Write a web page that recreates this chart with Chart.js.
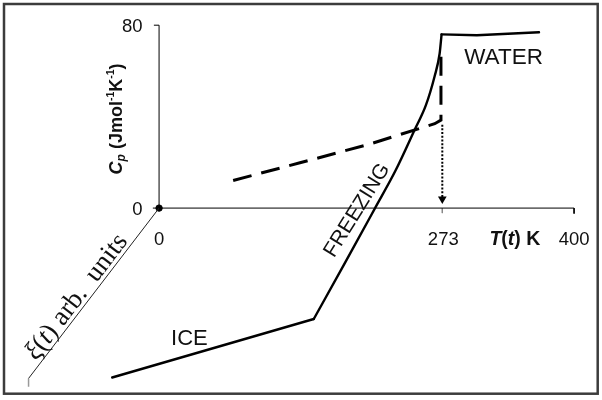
<!DOCTYPE html>
<html>
<head>
<meta charset="utf-8">
<script src="https://cdn.jsdelivr.net/npm/chart.js@4.4.1/dist/chart.umd.min.js"></script>
<style>
html,body{margin:0;padding:0;background:#fff;}
#wrap{width:602px;height:400px;}
</style>
</head>
<body>
<div id="wrap"><canvas id="c" width="602" height="400"></canvas></div>
<script>
// ---- data (T in K, Cp in J mol^-1 K^-1, projected onto the T–Cp plane) ----
const iceT       = [-45.2, 149.1];
const iceCp      = [-74.1, -48.5];
const freezingT  = [149.1, 178.9, 208.3, 227.8, 246.7, 257.1, 265.6, 270.4, 272.3];
const freezingCp = [-48.5, -24.2,   0.1,  16.3,  34.6,  44.9,  57.7,  67.5,  76.0];
const waterT     = [272.3, 306.3, 366.2];
const waterCp    = [76.0,  75.6,  76.9];
const dashT   = [71.4, 135.8, 202.2, 265.7, 271.7, 271.7];
const dashCp  = [12.1,  19.8,  27.9,  36.9,  38.5,  69.6];
const arrowT  = [273, 273];
const arrowCp = [36.5, 4.0];
const xiAxisT  = [0, -125.8];
const xiAxisCp = [0, -74.5];
const xTicks = [0, 273, 400];
const xTickLabels = ["0", "273", "400"];
const yTicks = [0, 80];
const yTickLabels = ["0", "80"];

const pts = (xs, ys) => xs.map((x, i) => ({x: x, y: ys[i]}));

const datasets = [
  // T axis
  {data: pts([0, 400], [0, 0]), borderColor: '#000', borderWidth: 1},
  // Cp axis
  {data: pts([0, 0], [0, 80]), borderColor: '#000', borderWidth: 1},
  // xi axis (diagonal)
  {data: pts(xiAxisT, xiAxisCp), borderColor: '#222', borderWidth: 1},
  {data: pts([xiAxisT[1], xiAxisT[1]], [xiAxisCp[1], xiAxisCp[1] - 3.6]), borderColor: '#999', borderWidth: 1.5},
  // y ticks
  {data: pts([-5, 0], [80, 80]), borderColor: '#000', borderWidth: 1},
  {data: pts([-6, 0], [0, 0]), borderColor: '#000', borderWidth: 1},
  // x ticks
  {data: pts([273, 273], [0, -2.2]), borderColor: '#888', borderWidth: 1},
  {data: pts([400, 400], [0, -2.4]), borderColor: '#000', borderWidth: 1},
  // dashed curve
  {data: pts(dashT, dashCp), borderColor: '#000', borderWidth: 3, borderDash: [19, 10], borderJoinStyle: 'miter'},
  // solid curve: ice, freezing, water
  {data: pts(iceT, iceCp), borderColor: '#000', borderWidth: 2.4, borderCapStyle: 'round'},
  {data: pts(freezingT, freezingCp), borderColor: '#000', borderWidth: 2.4, cubicInterpolationMode: 'monotone', borderCapStyle: 'round'},
  {data: pts(waterT, waterCp), borderColor: '#000', borderWidth: 2.4, borderCapStyle: 'round'},
  // dotted arrow
  {data: pts(arrowT, arrowCp), borderColor: '#000', borderWidth: 2, borderDash: [2, 1.7],
   pointRadius: [0, 5], pointStyle: 'triangle', pointRotation: 180, pointBackgroundColor: '#000', pointBorderColor: '#000', pointBorderWidth: 0},
  // origin dot
  {data: pts([0], [0]), pointRadius: 3.2, pointBackgroundColor: '#000', pointBorderColor: '#000', showLine: false}
];
datasets.forEach(d => {
  if (d.pointRadius === undefined) d.pointRadius = 0;
  if (d.showLine === undefined) d.showLine = true;
  d.fill = false;
  if (d.tension === undefined) d.tension = 0;
});

function drawRich(ctx, segs, align) {
  let total = 0;
  segs.forEach(s => { ctx.font = s.f; s.w = ctx.measureText(s.t).width; total += s.w; });
  let x = align === 'center' ? -total / 2 : (align === 'right' ? -total : 0);
  segs.forEach(s => {
    ctx.font = s.f;
    ctx.fillText(s.t, x, s.dy || 0);
    x += s.w;
  });
}

const SANS = '"Liberation Sans", Arial, Helvetica, sans-serif';
const SERIF = '"Liberation Serif", "Times New Roman", "DejaVu Serif", serif';

const textPlugin = {
  id: 'texts',
  afterDraw(chart) {
    const ctx = chart.ctx;
    const xs = chart.scales.x, ys = chart.scales.y;
    const X = v => xs.getPixelForValue(v), Y = v => ys.getPixelForValue(v);
    ctx.save();
    // frame
    ctx.strokeStyle = '#3c3c3c';
    ctx.lineWidth = 2.5;
    ctx.strokeRect(4, 4, 593.7, 389.7);

    ctx.fillStyle = '#111';
    ctx.textBaseline = 'alphabetic';
    // y tick labels
    yTicks.forEach((v, i) => {
      ctx.save();
      ctx.translate(X(0) - 16.5, Y(v) + 6.8);
      drawRich(ctx, [{t: yTickLabels[i], f: '18.5px ' + SANS}], 'right');
      ctx.restore();
    });
    // x tick labels
    xTicks.forEach((v, i) => {
      ctx.save();
      ctx.translate(X(v) + (v === 273 ? 1 : 0), Y(0) + 36.5);
      drawRich(ctx, [{t: xTickLabels[i], f: '18.5px ' + SANS}], 'center');
      ctx.restore();
    });
    // x axis title
    ctx.save();
    ctx.translate(X(342.9), Y(0) + 36.5);
    drawRich(ctx, [
      {t: 'T', f: 'italic bold 19.5px ' + SANS},
      {t: '(', f: 'bold 19.5px ' + SANS},
      {t: 't', f: 'italic bold 19.5px ' + SANS},
      {t: ')', f: 'bold 19.5px ' + SANS},
      {t: ' K', f: 'bold 19.5px ' + SANS}
    ], 'center');
    ctx.restore();
    // y axis title
    ctx.save();
    ctx.translate(X(0) - 43.5, Y(39));
    ctx.rotate(-Math.PI / 2);
    drawRich(ctx, [
      {t: 'C', f: 'italic bold 18px ' + SANS, dy: 6},
      {t: 'p', f: 'italic bold 12px ' + SANS, dy: 9},
      {t: ' (Jmol', f: 'bold 18px ' + SANS, dy: 6},
      {t: '-1', f: 'bold 10.5px ' + SANS, dy: -1.5},
      {t: 'K', f: 'bold 18px ' + SANS, dy: 6},
      {t: '-1', f: 'bold 10.5px ' + SANS, dy: -1.5},
      {t: ')', f: 'bold 18px ' + SANS, dy: 6}
    ], 'center');
    ctx.restore();
    // phase labels
    ctx.save();
    ctx.translate(X(332.0), Y(66.6) + 8);
    drawRich(ctx, [{t: 'WATER', f: '22.5px ' + SANS}], 'center');
    ctx.restore();
    ctx.save();
    ctx.translate(X(29.2), Y(-56.6) + 8);
    drawRich(ctx, [{t: 'ICE', f: '22px ' + SANS}], 'center');
    ctx.restore();
    ctx.save();
    ctx.translate(X(189.9), Y(-0.7));
    ctx.rotate(-58 * Math.PI / 180);
    ctx.translate(0, 7);
    drawRich(ctx, [{t: 'FREEZING', f: '21px ' + SANS}], 'center');
    ctx.restore();
    // xi axis label, set along the diagonal axis
    const ang = Math.atan2(Y(xiAxisCp[0]) - Y(xiAxisCp[1]), X(xiAxisT[0]) - X(xiAxisT[1]));
    ctx.save();
    ctx.translate(X(-70.8), Y(-41.9));
    ctx.rotate(ang);
    ctx.translate(0, -4);
    drawRich(ctx, [
      {t: 'ξ', f: 'italic 27px ' + SERIF},
      {t: '(', f: '27px ' + SERIF},
      {t: 't', f: 'italic 27px ' + SERIF},
      {t: ') arb.  units', f: '27px ' + SERIF}
    ], 'center');
    ctx.restore();
    ctx.restore();
  }
};

new Chart(document.getElementById('c'), {
  type: 'scatter',
  data: {datasets: datasets},
  options: {
    responsive: false,
    animation: false,
    events: [],
    layout: {padding: 0},
    plugins: {legend: {display: false}, tooltip: {enabled: false}},
    scales: {
      x: {type: 'linear', min: -148.5, max: 422.1, display: false},
      y: {type: 'linear', min: -81.75, max: 88.83, display: false}
    }
  },
  plugins: [textPlugin]
});
</script>
</body>
</html>
